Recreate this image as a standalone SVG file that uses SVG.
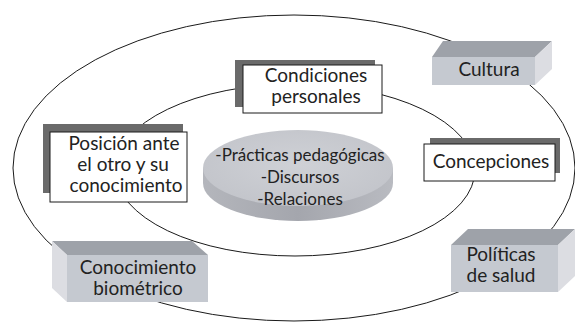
<svg xmlns="http://www.w3.org/2000/svg" width="575" height="322" viewBox="0 0 575 322">
<defs>
<linearGradient id="rim" x1="0" y1="0" x2="1" y2="0">
<stop offset="0" stop-color="#b4b6bc"/>
<stop offset="0.5" stop-color="#a4a6ad"/>
<stop offset="1" stop-color="#b9bbc1"/>
</linearGradient>
<radialGradient id="disc" cx="0.5" cy="0.45" r="0.6">
<stop offset="0" stop-color="#cfd1d6"/>
<stop offset="1" stop-color="#c2c4ca"/>
</radialGradient>
</defs>
<style>
.conn{fill:none;stroke:#1a1a1a;stroke-width:1}
.shadow{fill:#6a6a6a}
.card{fill:#ffffff;stroke:#1a1a1a;stroke-width:1}
.front{fill:#c5c9d0}
.top{fill:#9ea2a9}
.side{fill:#dcdde2}
text{font-family:Lato,"Liberation Sans",sans-serif;fill:#222222;text-anchor:middle}
.t{font-size:19px}
.c{font-size:17px}
</style>
<rect width="575" height="322" fill="#ffffff"/>
<g id="connectors">
<ellipse class="conn" cx="294" cy="168" rx="281" ry="153"/>
<ellipse class="conn" cx="295" cy="170" rx="180" ry="86"/>
</g>
<g id="centro">
<ellipse cx="298" cy="183" rx="95" ry="38" fill="url(#rim)"/>
<rect x="203" y="168" width="190" height="15" fill="url(#rim)"/>
<ellipse cx="298" cy="168" rx="95" ry="38" fill="url(#disc)"/>
<text class="c" x="300" y="161">-Prácticas pedagógicas</text>
<text class="c" x="300" y="183">-Discursos</text>
<text class="c" x="300" y="205">-Relaciones</text>
</g>
<g id="condiciones">
<rect class="shadow" x="235" y="60" width="140" height="47"/>
<rect class="card" x="243" y="65" width="139" height="48"/>
<text class="t" x="316" y="82">Condiciones</text>
<text class="t" x="316" y="103">personales</text>
</g>
<g id="posicion">
<rect class="shadow" x="43" y="124" width="140" height="69"/>
<rect class="card" x="50" y="132" width="137" height="70"/>
<text class="t" x="124" y="150">Posición ante</text>
<text class="t" x="123" y="171">el otro y su</text>
<text class="t" x="126" y="192">conocimiento</text>
</g>
<g id="concepciones">
<rect class="shadow" x="430" y="138" width="130" height="35"/>
<rect class="card" x="424" y="144" width="131" height="37"/>
<text class="t" x="491" y="168">Concepciones</text>
</g>
<g id="cultura">
<polygon class="top" points="432,57 443,41 552,41 535,57"/>
<polygon class="side" points="535,57 552,41 552,69 535,85"/>
<rect class="front" x="432" y="57" width="103" height="28"/>
<text class="t" x="489" y="76">Cultura</text>
</g>
<g id="conocimiento">
<polygon class="top" points="52,241 192,241 208,255 67,255"/>
<polygon class="side" points="52,241 67,255 67,302 52,288"/>
<rect class="front" x="67" y="255" width="141" height="47"/>
<text class="t" x="138" y="274">Conocimiento</text>
<text class="t" x="138" y="295">biométrico</text>
</g>
<g id="politicas">
<polygon class="top" points="451,245 468,229 575,229 558,245"/>
<polygon class="side" points="558,245 575,229 575,276 558,292"/>
<rect class="front" x="451" y="245" width="107" height="47"/>
<text class="t" x="501" y="261">Políticas</text>
<text class="t" x="501" y="282">de salud</text>
</g>
</svg>
